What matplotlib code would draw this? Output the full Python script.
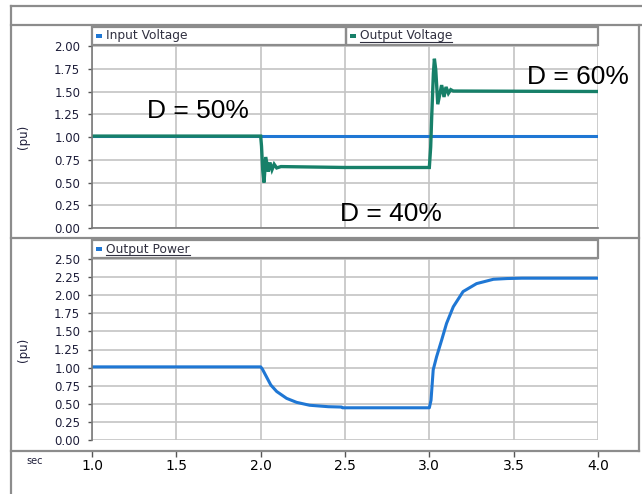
import matplotlib
matplotlib.use('Agg')
import matplotlib.pyplot as plt
from matplotlib.patches import Rectangle
from matplotlib.lines import Line2D

# data
t_vin = [1.0, 4.0]
v_in = [1.01, 1.01]

t_vout = [1.0, 2.0, 2.005, 2.012, 2.02, 2.03, 2.045, 2.055, 2.067, 2.08, 2.095, 2.12, 2.5,
          3.0, 3.008, 3.014, 3.024, 3.030, 3.038, 3.050, 3.073, 3.087, 3.099, 3.113, 3.127, 3.142, 4.0]
v_out = [1.01, 1.01, 0.90, 0.64, 0.50, 0.78, 0.62, 0.72, 0.64, 0.70, 0.66, 0.675, 0.665,
         0.665, 0.89, 1.22, 1.70, 1.86, 1.74, 1.36, 1.57, 1.44, 1.55, 1.48, 1.52, 1.505, 1.50]

t_pow = [1.0, 2.0, 2.01, 2.035, 2.06, 2.095, 2.154, 2.213, 2.29, 2.4, 2.48, 2.485, 3.0,
         3.01, 3.023, 3.043, 3.073, 3.102, 3.142, 3.2, 3.28, 3.38, 3.46, 3.55, 4.0]
p_out = [1.01, 1.01, 0.98, 0.87, 0.76, 0.67, 0.575, 0.52, 0.48, 0.46, 0.455, 0.445, 0.445,
         0.55, 0.97, 1.15, 1.38, 1.61, 1.84, 2.05, 2.16, 2.22, 2.23, 2.235, 2.235]

top_ticks = [0.0, 0.25, 0.5, 0.75, 1.0, 1.25, 1.5, 1.75, 2.0]
bot_ticks = [0.0, 0.25, 0.5, 0.75, 1.0, 1.25, 1.5, 1.75, 2.0, 2.25, 2.5]
x_ticks = [1.0, 1.5, 2.0, 2.5, 3.0, 3.5, 4.0]

blue = '#1f77d4'
green = '#178069'
frame = '#8c8c8c'
grid = '#c4c4c4'
txt = '#1e1e3a'

W, H = 642, 494
fig = plt.figure(figsize=(W / 100, H / 100), dpi=100)


def fx(x):
    return x / W


def fy(y):
    return 1 - y / H


def hline(x0, x1, y, c=frame, lw=1.6):
    fig.add_artist(Line2D([fx(x0), fx(x1)], [fy(y), fy(y)], color=c, lw=lw))


def vline(x, y0, y1, c=frame, lw=1.6):
    fig.add_artist(Line2D([fx(x), fx(x)], [fy(y0), fy(y1)], color=c, lw=lw))


# outer frames
hline(11, 642, 6)
hline(11, 642, 25)
vline(11, 6, 494)
hline(11, 639, 238.5)
hline(11, 639, 451)
vline(639, 25, 451)


def style_axes(ax, ticks):
    ax.set_xlim(1.0, 4.0)
    ax.set_ylim(0, ticks[-1])
    ax.set_yticks(ticks)
    ax.set_yticklabels(['%.2f' % v for v in ticks], fontsize=8.5, color=txt)
    ax.set_xticks(x_ticks)
    ax.grid(True, color=grid, lw=1.2)
    ax.set_axisbelow(True)
    for s in ['top', 'right']:
        ax.spines[s].set_visible(False)
    for s in ['left', 'bottom']:
        ax.spines[s].set_color('#7a7a7a')
        ax.spines[s].set_linewidth(1.2)
    ax.tick_params(axis='y', length=3, width=1, color='#555555', pad=5.5)
    ax.set_ylabel('(pu)', fontsize=8.5, color=txt, labelpad=17)


# top panel
ax1 = fig.add_axes([fx(92), fy(228), fx(506), 182 / H])
style_axes(ax1, top_ticks)
ax1.tick_params(axis='x', length=0, labelbottom=False)
ax1.plot(t_vin, v_in, color=blue, lw=2.2, solid_capstyle='butt')
ax1.plot(t_vout, v_out, color=green, lw=2.4, solid_joinstyle='miter')

ax1.text(1.628, 1.29, 'D = 50%', fontsize=19, family='Liberation Sans', ha='center', va='center')
ax1.text(3.88, 1.66, 'D = 60%', fontsize=19, family='Liberation Sans', ha='center', va='center', clip_on=False)
ax1.text(2.77, 0.155, 'D = 40%', fontsize=19, family='Liberation Sans', ha='center', va='center')

# bottom panel
ax2 = fig.add_axes([fx(92), fy(440), fx(506), 181 / H])
style_axes(ax2, bot_ticks)
ax2.set_xticklabels(['%.1f' % v for v in x_ticks], fontsize=8.5, color=txt)
ax2.spines['bottom'].set_position(('outward', 8))
ax2.spines['bottom'].set_visible(False)
ax2.tick_params(axis='x', length=4, width=1, color='#555555', pad=2)
ax2.plot(t_pow, p_out, color=blue, lw=2.2)
fig.text(fx(26), fy(461), 'sec', fontsize=7, color=txt, va='center')

# legend bars
for x0, x1, y0 in [(92, 346, 27), (346, 598, 27), (92, 598, 240)]:
    fig.add_artist(Rectangle((fx(x0), fy(y0 + 18)), fx(x1 - x0), 18 / H,
                             fill=False, ec=frame, lw=1.6))

leg = []
for x0, yc, label, col, under in [(96, 36, 'Input Voltage', blue, False),
                                  (350, 36, 'Output Voltage', green, True),
                                  (96, 249, 'Output Power', blue, True)]:
    fig.add_artist(Rectangle((fx(x0), fy(yc + 2)), fx(6), 4 / H, color=col, lw=0))
    t = fig.text(fx(x0 + 10), fy(yc), label, fontsize=8.8, color='#303040', va='center')
    leg.append((t, under))

fig.canvas.draw()
r = fig.canvas.get_renderer()
for t, under in leg:
    if under:
        bb = t.get_window_extent(r)
        yb = bb.y0 / H + 0.5 / H
        fig.add_artist(Line2D([bb.x0 / W, bb.x1 / W], [yb, yb], color='#303040', lw=0.8))

fig.savefig('out.png', dpi=100, facecolor='white')
